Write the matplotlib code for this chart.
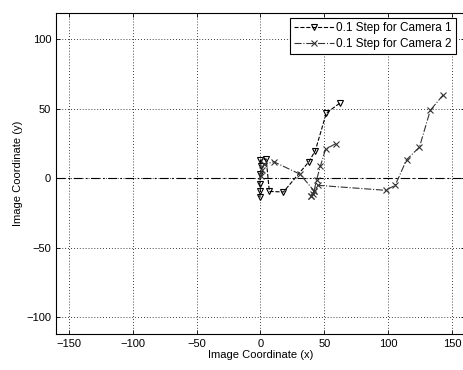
import matplotlib
matplotlib.use("Agg")
import matplotlib.pyplot as plt
import numpy as np

plt.rcParams['font.family'] = ['Liberation Sans', 'DejaVu Sans']

# Camera 1 trajectory (image coordinates)
cam1_x = [62, 51.6, 43, 38, 18, 7, 4.5, 0, 0.5, 0, -0.5, 0, -0.5]
cam1_y = [54, 47, 20, 12, -9.8, -9.4, 14, 13, 9, 3, -4, -9, -13.5]

# Camera 2 trajectory, first run
cam2a_x = [143, 133, 124.5, 114.5, 105.5, 98, 45, 41, 40, 42, 31, 10.4, 3, 1, 0.5]
cam2a_y = [60, 49, 22.5, 13.5, -5, -8.6, -5, -11, -13, -9, 3, 12, 10, 6, 2]
# Camera 2 trajectory, second run
cam2b_x = [59, 51, 47, 44, 42, 40]
cam2b_y = [25, 21, 9, -1, -9, -13]

x_ticks = [-150, -100, -50, 0, 50, 100, 150]
y_ticks = [-100, -50, 0, 50, 100]

fig = plt.figure(figsize=(4.64, 3.70), dpi=100)
ax = fig.add_axes([56/464, 36/370, (464.8-56)/464, (334-13)/370])

ax.axhline(0, color='black', linestyle=(0, (8, 3, 1.5, 3)), linewidth=0.8, zorder=1)

ax.plot(cam1_x, cam1_y, linestyle='--', color='black', linewidth=0.8,
        marker='v', markersize=4.5, markerfacecolor='none', markeredgewidth=0.8,
        label='0.1 Step for Camera 1', zorder=3)
ax.plot(cam2a_x, cam2a_y, linestyle='-.', color='#333333', linewidth=0.8,
        marker='x', markersize=4.5, markeredgewidth=0.8,
        label='0.1 Step for Camera 2', zorder=3)
ax.plot(cam2b_x, cam2b_y, linestyle='-.', color='#333333', linewidth=0.8,
        marker='x', markersize=4.5, markeredgewidth=0.8, zorder=3)

ax.set_xlim(-160, 160)
ax.set_ylim(-112, 119)
ax.set_xticks(x_ticks)
ax.set_yticks(y_ticks)
ax.tick_params(direction='in', top=True, right=True, labelsize=8, length=3, width=0.6)
ax.grid(True, linestyle=(0, (1, 2.5)), color='black', linewidth=0.6)
for s in ax.spines.values():
    s.set_linewidth(0.8)

ax.set_xlabel('Image Coordinate (x)', fontsize=8, labelpad=1)
ax.set_ylabel('Image Coordinate (y)', fontsize=8, labelpad=2)

leg = ax.legend(loc='upper right', fontsize=8.5, frameon=True, fancybox=False,
                edgecolor='black', framealpha=1, handlelength=3.4, borderpad=0.35,
                labelspacing=0.35, handletextpad=0.2, borderaxespad=0.4,
                bbox_to_anchor=(0.99, 1.0))
leg.get_frame().set_linewidth(0.8)

fig.savefig('out.png', dpi=100)
